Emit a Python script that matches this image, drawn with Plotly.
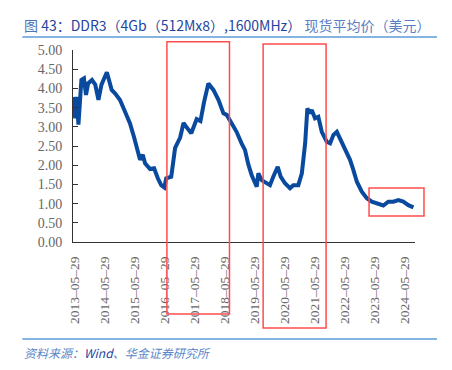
import plotly.graph_objects as go

dates = ["2013-05-29","2013-06-10","2013-06-25","2013-07-20","2013-08-25","2013-09-25","2013-10-20","2013-11-15",
         "2014-01-01","2014-02-09","2014-03-20","2014-04-25","2014-05-20","2014-06-30","2014-07-31","2014-08-28",
         "2014-10-07","2014-12-07","2015-02-06","2015-04-07","2015-05-25","2015-07-05","2015-08-07","2015-09-09",
         "2015-10-07","2015-12-07","2016-01-25","2016-03-10","2016-04-20","2016-05-28","2016-06-20","2016-08-20",
         "2016-10-06","2016-12-06","2017-01-16","2017-02-26","2017-04-20","2017-06-25","2017-08-10","2017-09-23",
         "2017-11-14","2018-01-14","2018-03-16","2018-05-16","2018-06-25","2018-08-23","2018-10-22","2018-12-22",
         "2019-02-01","2019-03-14","2019-04-24","2019-06-24","2019-07-14","2019-08-23","2019-12-02","2020-01-11",
         "2020-03-05","2020-04-10","2020-06-01","2020-08-01","2020-09-10","2020-11-10","2020-12-23","2021-02-01",
         "2021-02-28","2021-04-01","2021-04-22","2021-06-01","2021-07-11","2021-08-22","2021-10-22","2021-12-01",
         "2022-01-11","2022-02-21","2022-04-01","2022-06-01","2022-07-31","2022-09-09","2022-10-22","2022-12-21",
         "2023-02-20","2023-04-21","2023-06-20","2023-09-08","2023-11-08","2024-01-08","2024-03-09","2024-05-08",
         "2024-07-08","2024-09-08"]
prices = [3.78,3.22,3.78,3.06,4.22,4.26,3.83,4.13,
          4.22,4.10,3.70,4.09,4.22,4.42,4.18,3.96,
          3.87,3.70,3.39,3.09,2.74,2.40,2.14,2.27,
          2.05,1.90,1.92,1.66,1.48,1.42,1.66,1.70,
          2.45,2.72,3.10,2.98,2.83,3.20,3.15,3.65,
          4.13,3.96,3.70,3.35,3.31,3.09,2.87,2.57,
          2.40,2.02,1.74,1.44,1.79,1.61,1.48,1.70,
          1.96,1.70,1.53,1.40,1.48,1.48,1.79,2.57,
          3.48,3.35,3.44,3.22,3.26,2.87,2.61,2.57,
          2.79,2.87,2.70,2.40,2.14,1.88,1.57,1.31,
          1.14,1.05,1.01,0.95,1.05,1.05,1.09,1.05,
          0.96,0.90]

x_tick_vals = [f"{y}-05-29" for y in range(2013, 2025)]
x_tick_text = [f"{y}–05–29" for y in range(2013, 2025)]
y_tick_vals = [0, 0.5, 1, 1.5, 2, 2.5, 3, 3.5, 4, 4.5, 5]
y_tick_text = [f"{v:.2f}" for v in y_tick_vals]

fig = go.Figure()
fig.add_trace(go.Scatter(x=dates, y=prices, mode="lines",
                         line=dict(color="#0a4a9e", width=4), hoverinfo="skip"))

OFF = 8  # page body margin
W, H = 452 - OFF, 370 - OFF
L, T = 72.7 - OFF, 50 - OFF
R = W - (415 - OFF)
B = H - (242 - OFF)
pw, ph = W - L - R, H - T - B

def px(x):
    return (x - OFF - L) / pw

def py(y):
    return (H - B - (y - OFF)) / ph

shapes = []
# highlight boxes (positions in the page layout)
for x0, x1, y0, y1 in [(166.7, 229.3, 41.7, 314), (263, 326, 44, 328), (369, 424, 188, 216)]:
    shapes.append(dict(type="rect", xref="paper", yref="paper", x0=px(x0), x1=px(x1), y0=py(y1), y1=py(y0),
                       line=dict(color="#ff4d4d", width=1.5), fillcolor="rgba(0,0,0,0)"))
# header / footer rules
for yy in (37, 339):
    shapes.append(dict(type="line", xref="paper", yref="paper", x0=px(22), x1=px(437), y0=py(yy), y1=py(yy),
                       line=dict(color="#5b9bd5", width=1.5)))

title = ("<span style='color:#4a72b8'>图 </span>"
         "<span style='color:#1f45a0'>43：DDR3（4Gb（512Mx8）,1600MHz）</span>"
         "<span style='color:#5a80c4'> 现货平均价（美元）</span>")
source = ("<i><span style='color:#5a86c8'>资料来源：</span>"
          "<span style='color:#1f45a0'>Wind</span>"
          "<span style='color:#5a86c8'>、华金证券研究所</span></i>")

annotations = [
    dict(text=title, xref="paper", yref="paper", x=px(22), y=py(25), xanchor="left", yanchor="middle",
         showarrow=False, font=dict(family="Noto Sans CJK SC, Liberation Sans, sans-serif", size=14)),
    dict(text=source, xref="paper", yref="paper", x=px(22), y=py(352), xanchor="left", yanchor="middle",
         showarrow=False, font=dict(family="Noto Sans CJK SC, sans-serif", size=12)),
]

fig.update_layout(
    width=W, height=H,
    margin=dict(l=L, r=R, t=T, b=B, pad=0, autoexpand=False),
    paper_bgcolor="white", plot_bgcolor="white",
    showlegend=False,
    shapes=shapes, annotations=annotations,
    xaxis=dict(type="date", range=["2013-05-15", "2024-09-27"], tickvals=x_tick_vals, ticktext=x_tick_text,
               tickangle=-90, showgrid=False, zeroline=False, showline=True, linecolor="#333333", linewidth=1,
               ticks="", ticklabelstandoff=8, automargin=False,
               tickfont=dict(family="Liberation Serif, serif", size=13.5, color="#666666")),
    yaxis=dict(range=[0, 5], tickvals=y_tick_vals, ticktext=y_tick_text, showgrid=False, zeroline=False,
               showline=True, linecolor="#333333", linewidth=1, ticks="inside", ticklen=5, tickcolor="#333333",
               ticklabelstandoff=7, automargin=False,
               tickfont=dict(family="Liberation Serif, serif", size=14, color="#666666")),
)

fig.write_html("out.html")
